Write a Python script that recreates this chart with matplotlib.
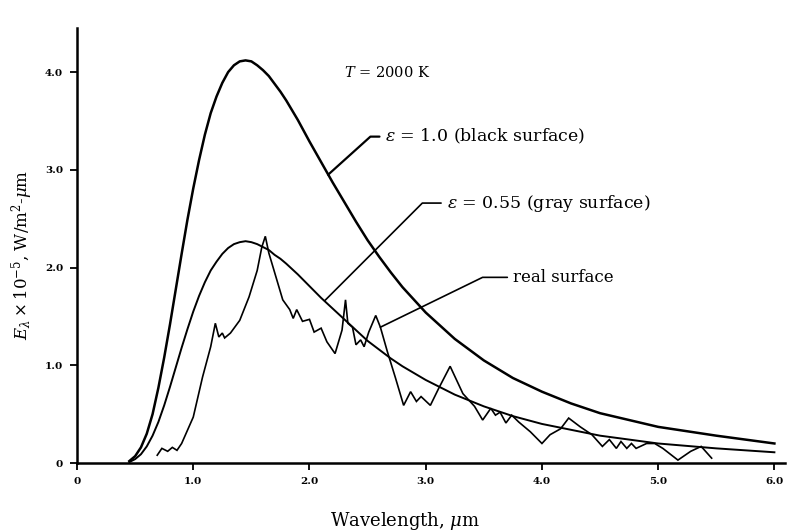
import matplotlib
matplotlib.use("Agg")
import matplotlib.pyplot as plt

plt.rcParams['font.family'] = ['DejaVu Serif']
plt.rcParams['mathtext.fontset'] = 'dejavuserif'

# Black surface (eps = 1.0) and gray surface (eps = 0.55)
curve_x = [0.45, 0.5, 0.55, 0.6, 0.65, 0.7, 0.75, 0.8, 0.85, 0.9,
           0.95, 1.0, 1.05, 1.1, 1.15, 1.2, 1.25, 1.3, 1.35, 1.4,
           1.45, 1.5, 1.55, 1.6, 1.65, 1.7, 1.75, 1.8, 1.9, 2.0,
           2.1, 2.2, 2.3, 2.4, 2.5, 2.6, 2.7, 2.8, 3.0, 3.25,
           3.5, 3.75, 4.0, 4.25, 4.5, 4.75, 5.0, 5.5, 6.0]
black_y = [0.02, 0.07, 0.16, 0.30, 0.50, 0.77, 1.08, 1.42, 1.78, 2.14,
           2.49, 2.81, 3.10, 3.36, 3.58, 3.75, 3.89, 4.00, 4.07, 4.11,
           4.12, 4.11, 4.07, 4.02, 3.96, 3.88, 3.80, 3.71, 3.51, 3.29,
           3.08, 2.87, 2.67, 2.47, 2.28, 2.11, 1.95, 1.80, 1.54, 1.27,
           1.05, 0.87, 0.73, 0.61, 0.51, 0.44, 0.37, 0.28, 0.20]
gray_y = [0.01, 0.04, 0.09, 0.17, 0.28, 0.42, 0.59, 0.78, 0.98, 1.18,
          1.37, 1.55, 1.71, 1.85, 1.97, 2.06, 2.14, 2.20, 2.24, 2.26,
          2.27, 2.26, 2.24, 2.21, 2.18, 2.13, 2.09, 2.04, 1.93, 1.81,
          1.69, 1.58, 1.47, 1.36, 1.25, 1.16, 1.07, 0.99, 0.85, 0.70,
          0.58, 0.48, 0.40, 0.34, 0.28, 0.24, 0.20, 0.15, 0.11]
# Real surface
real_x = [0.69, 0.73, 0.78, 0.82, 0.86, 0.90, 1.00, 1.08, 1.15, 1.19, 1.22, 1.25, 1.27, 1.32, 1.40,
          1.48, 1.55, 1.59, 1.62, 1.65, 1.71, 1.77, 1.83, 1.86, 1.89, 1.94, 2.00, 2.04, 2.10, 2.15,
          2.22, 2.28, 2.31, 2.33, 2.37, 2.40, 2.44, 2.47, 2.51, 2.57, 2.61, 2.67, 2.74, 2.81, 2.87,
          2.92, 2.96, 3.04, 3.11, 3.21, 3.32, 3.42, 3.49, 3.56, 3.60, 3.64, 3.69, 3.74, 3.80, 3.90,
          4.00, 4.07, 4.16, 4.23, 4.33, 4.43, 4.52, 4.58, 4.64, 4.68, 4.73, 4.77, 4.81, 4.90, 4.97,
          5.04, 5.17, 5.28, 5.37, 5.46]
real_y = [0.08, 0.15, 0.12, 0.16, 0.13, 0.20, 0.47, 0.88, 1.19, 1.43, 1.29, 1.33, 1.28, 1.33, 1.46,
          1.70, 1.97, 2.21, 2.32, 2.15, 1.91, 1.67, 1.57, 1.48, 1.57, 1.45, 1.47, 1.34, 1.38, 1.24,
          1.12, 1.36, 1.67, 1.43, 1.39, 1.21, 1.26, 1.19, 1.34, 1.51, 1.39, 1.14, 0.87, 0.59, 0.73,
          0.63, 0.68, 0.59, 0.76, 0.99, 0.71, 0.58, 0.44, 0.56, 0.49, 0.52, 0.41, 0.49, 0.42, 0.32,
          0.20, 0.29, 0.35, 0.46, 0.37, 0.29, 0.17, 0.24, 0.15, 0.22, 0.15, 0.20, 0.15, 0.20, 0.20,
          0.15, 0.03, 0.12, 0.17, 0.05]

x_ticks = [0, 1, 2, 3, 4, 5, 6]
x_ticklabels = ["0", "1.0", "2.0", "3.0", "4.0", "5.0", "6.0"]
y_ticks = [0, 1, 2, 3, 4]
y_ticklabels = ["0", "1.0", "2.0", "3.0", "4.0"]

fig = plt.figure(figsize=(7.9, 5.31), dpi=100)
ax = fig.add_axes([0.0975, 0.128, 0.896, 0.819])

ax.plot(curve_x, black_y, color='black', lw=1.8, solid_joinstyle='round')
ax.plot(curve_x, gray_y, color='black', lw=1.4, solid_joinstyle='round')
ax.plot(real_x, real_y, color='black', lw=1.2, solid_joinstyle='miter')

ax.set_xlim(0, 6.09)
ax.set_ylim(0, 4.45)
for s in ['top', 'right']:
    ax.spines[s].set_visible(False)
ax.spines['left'].set_linewidth(1.8)
ax.spines['bottom'].set_linewidth(1.8)

ax.set_xticks(x_ticks)
ax.set_xticklabels(x_ticklabels, fontsize=7.5, fontweight='bold')
ax.set_yticks(y_ticks)
ax.set_yticklabels(y_ticklabels, fontsize=7.5, fontweight='bold')
ax.tick_params(direction='out', length=5, width=1.3, pad=5)

ax.set_xlabel(r"Wavelength, $\mu$m", fontsize=13, va='center')
ax.xaxis.set_label_coords(0.463, -0.133)
ax.set_ylabel(r"$E_\lambda\times 10^{-5}$, W/m$^2$-$\mu$m", fontsize=12, va='center')
ax.yaxis.set_label_coords(-0.078, 0.478)

ax.text(2.67, 4.0, r"$T$ = 2000 K", fontsize=10.5, ha='center', va='center')

ax.annotate(r"$\epsilon$ = 1.0 (black surface)", xy=(2.16, 2.95), xytext=(2.65, 3.34),
            fontsize=12.5, ha='left', va='center',
            arrowprops=dict(arrowstyle='-', color='black', lw=1.6,
                            connectionstyle='angle,angleA=180,angleB=42,rad=0',
                            shrinkA=2, shrinkB=0))
ax.annotate(r"$\epsilon$ = 0.55 (gray surface)", xy=(2.13, 1.66), xytext=(3.18, 2.66),
            fontsize=12.5, ha='left', va='center',
            arrowprops=dict(arrowstyle='-', color='black', lw=1.2,
                            connectionstyle='angle,angleA=180,angleB=45,rad=0',
                            shrinkA=2, shrinkB=0))
ax.annotate("real surface", xy=(2.61, 1.39), xytext=(3.75, 1.90),
            fontsize=12, ha='left', va='center',
            arrowprops=dict(arrowstyle='-', color='black', lw=1.2,
                            connectionstyle='angle,angleA=180,angleB=26,rad=0',
                            shrinkA=2, shrinkB=0))

fig.savefig("out.png", dpi=100)
